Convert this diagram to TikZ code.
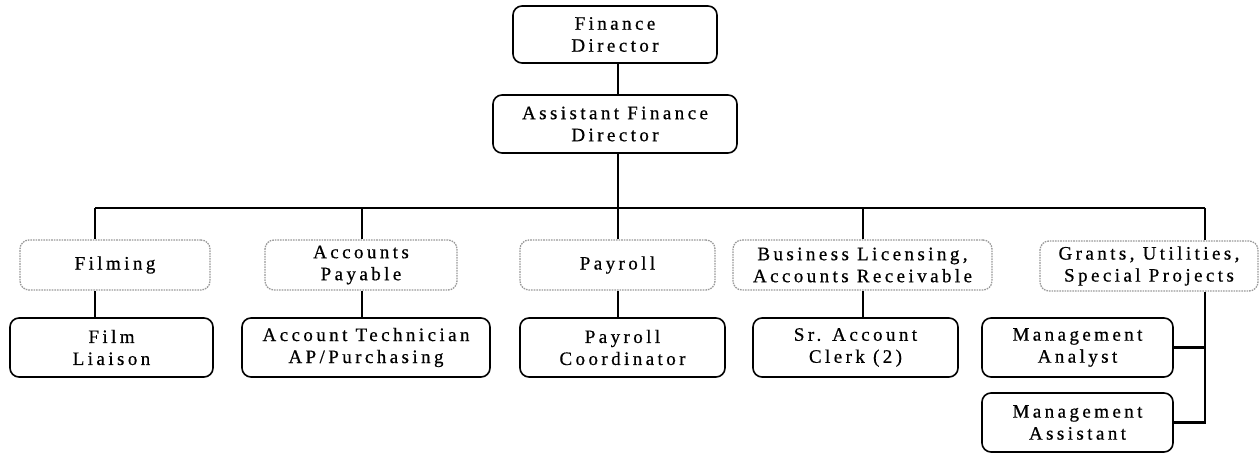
\documentclass[tikz,border=0pt]{standalone}
\usepackage{fontspec}
\setmainfont{Liberation Serif}[LetterSpace=18, FakeBold=0.6]
\usepackage{tikz}
\usetikzlibrary{arrows.meta,positioning,calc}

\begin{document}
\begin{tikzpicture}[x=1pt, y=-1pt, >=Latex, line width=2.4pt,
  every node/.style={font=\fontsize{19}{22}\selectfont}]
\tikzstyle{post}=[draw, line width=1.6pt, rounded corners=9pt, fill=white,
                  inner sep=0pt, align=center]
\tikzstyle{dept}=[post, draw=gray!80, densely dotted, line width=1.3pt]

\useasboundingbox (0,0) rectangle (1259,454);

% top of the chart
\node[post, minimum width=204pt, minimum height=57pt] (fd) at (615,34.5) {Finance\\Director};
\node[post, minimum width=244pt, minimum height=58pt] (afd) at (615,124) {Assistant Finance\\Director};

% departments
\node[dept, minimum width=190pt, minimum height=50pt] (filming) at (115,265) {Filming};
\node[dept, minimum width=192pt, minimum height=50pt] (ap) at (361,265) {Accounts\\Payable};
\node[dept, minimum width=195pt, minimum height=50pt] (payroll) at (617.5,265) {Payroll};
\node[dept, minimum width=259pt, minimum height=50pt] (bl) at (862.5,265) {Business Licensing,\\Accounts Receivable};
\node[dept, minimum width=218pt, minimum height=50pt] (grants) at (1149,266) {Grants, Utilities,\\Special Projects};

% staff
\node[post, minimum width=203pt, minimum height=59pt] (liaison) at (111.5,347.5) {Film\\Liaison};
\node[post, minimum width=248pt, minimum height=59pt] (tech) at (366,347.5) {Account Technician\\AP/Purchasing};
\node[post, minimum width=205pt, minimum height=59pt] (coord) at (622.5,347.5) {Payroll\\Coordinator};
\node[post, minimum width=205pt, minimum height=59pt] (clerk) at (855.5,347.5) {Sr. Account\\Clerk (2)};
\node[post, minimum width=191pt, minimum height=59pt] (analyst) at (1077.5,347.5) {Management\\Analyst};
\node[post, minimum width=191pt, minimum height=59pt] (asst) at (1077.5,422.5) {Management\\Assistant};

\coordinate (busL) at (95,208);
\coordinate (busR) at (1205,208);

\draw (fd.south -| 618,0) -- (afd.north -| 618,0);
\draw (afd.south -| 618,0) -- (busL -| 618,0);
\draw (busL) -- (busR);
\draw (busL) -- (busL |- filming.north);
\draw (ap.north -| 362,0) -- (busL -| 362,0);
\draw (payroll.north -| 618,0) -- (busL -| 618,0);
\draw (bl.north -| 863,0) -- (busL -| 863,0);
\draw (busR) -- (busR |- grants.north);

\draw (busL |- filming.south) -- (busL |- liaison.north);
\draw (ap.south -| 362,0) -- (tech.north -| 362,0);
\draw (payroll.south -| 618,0) -- (coord.north -| 618,0);
\draw (bl.south -| 863,0) -- (clerk.north -| 863,0);
\draw (busR |- grants.south) -- (busR |- asst.east) -- (asst.east);
\draw (analyst.east) -- (analyst.east -| busR);
\end{tikzpicture}
\end{document}
